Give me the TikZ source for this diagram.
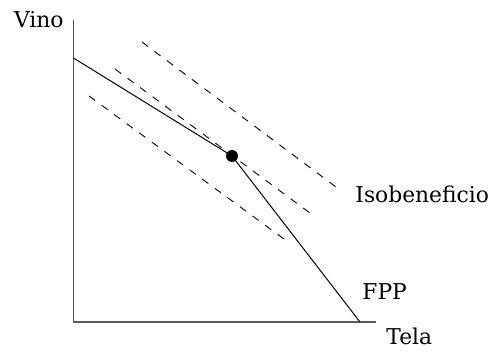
\documentclass[tikz,border=0pt]{standalone}
\usepackage{fontspec}
\setmainfont{DejaVu Serif}
\usepackage{tikz}
\usetikzlibrary{positioning}

\begin{document}
\begin{tikzpicture}[
    x=0.5pt,
    y=-0.5pt,
    axis/.style={
        draw=black!65,
        line width=0.7pt
    },
    frontier/.style={
        draw=black,
        line width=0.5pt
    },
    iso/.style={
        draw=black,
        line width=0.45pt,
        dash pattern=on 3.8pt off 4pt
    },
    dot/.style={
        circle,
        fill=black,
        inner sep=0pt,
        minimum size=6pt
    },
    label/.style={
        font=\fontsize{10.9}{13}\selectfont,
        inner sep=0pt
    }
]
\useasboundingbox (0,0) rectangle (493,356);

% Axes
\coordinate (origin) at (73.5,322);
\coordinate (ytop) at (73.5,20);
\coordinate (xend) at (376,322);
\draw[axis] (ytop) -- (origin) -- (xend);

\node[label, anchor=base east] (vino) at (64,28) {Vino};
\node[label, anchor=base west] (tela) at (386,345) {Tela};

% Isobeneficio lines
\coordinate (iso1a) at (142,42);
\coordinate (iso1b) at (340,190);
\coordinate (iso2a) at (115,69);
\coordinate (iso2b) at (314,216);
\coordinate (iso3a) at (89,96);
\coordinate (iso3b) at (288,242);
\draw[iso] (iso1a) -- (iso1b);
\draw[iso] (iso2a) -- (iso2b);
\draw[iso] (iso3a) -- (iso3b);

\node[label, anchor=base west] (isob) at (355,203) {Isobeneficio};

% FPP
\coordinate (fppa) at (73.5,58);
\coordinate (fppb) at (360,322);
\node[dot] (opt) at (232,156) {};
\draw[frontier] (fppa) -- (opt.center) -- (fppb);

\node[label, anchor=base west] (fpp) at (362,300) {FPP};

\end{tikzpicture}
\end{document}
